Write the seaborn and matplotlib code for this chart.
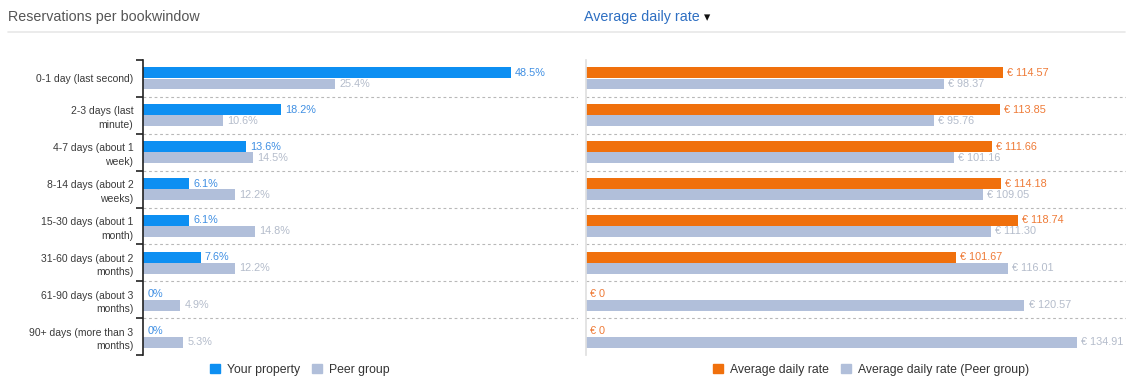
import matplotlib
matplotlib.use("Agg")
import matplotlib.pyplot as plt
import seaborn as sns
import pandas as pd
from matplotlib.patches import Patch
from matplotlib.lines import Line2D

categories = ["0-1 day (last second)", "2-3 days (last\nminute)", "4-7 days (about 1\nweek)",
              "8-14 days (about 2\nweeks)", "15-30 days (about 1\nmonth)", "31-60 days (about 2\nmonths)",
              "61-90 days (about 3\nmonths)", "90+ days (more than 3\nmonths)"]
your_property = [48.5, 18.2, 13.6, 6.1, 6.1, 7.6, 0, 0]
peer_group = [25.4, 10.6, 14.5, 12.2, 14.8, 12.2, 4.9, 5.3]
adr = [114.57, 113.85, 111.66, 114.18, 118.74, 101.67, 0, 0]
adr_peer = [98.37, 95.76, 101.16, 109.05, 111.30, 116.01, 120.57, 134.91]

BLUE = "#0d8ff2"
GREY = "#b1bfda"
ORANGE = "#f0700c"
BLUE_T = "#3f8fe3"
GREY_T = "#b4bccb"
ORANGE_T = "#ef7a36"

sns.set_theme(style="white")
plt.rcParams['font.family'] = ['Liberation Sans', 'DejaVu Sans']

fig = plt.figure(figsize=(11.31, 3.78), dpi=100)
W, H = 1131, 378

def axes_px(x0, x1, y0, y1):
    return fig.add_axes([x0 / W, 1 - y1 / H, (x1 - x0) / W, (y1 - y0) / H])

axL = axes_px(143, 578, 60, 355)
axR = axes_px(586, 1126, 60, 355)

dfL = pd.DataFrame({"cat": categories * 2,
                    "val": your_property + peer_group,
                    "series": ["Your property"] * 8 + ["Peer group"] * 8})
dfR = pd.DataFrame({"cat": categories * 2,
                    "val": adr + adr_peer,
                    "series": ["Average daily rate"] * 8 + ["Average daily rate (Peer group)"] * 8})

sns.barplot(data=dfL, y="cat", x="val", hue="series", palette=[BLUE, GREY], orient="h",
            width=0.6, gap=0.02, ax=axL, legend=False, saturation=1, linewidth=0)
sns.barplot(data=dfR, y="cat", x="val", hue="series", palette=[ORANGE, GREY], orient="h",
            width=0.6, gap=0.02, ax=axR, legend=False, saturation=1, linewidth=0)

fs_val = 7.8
axL.bar_label(axL.containers[0], labels=[f"{v:g}%" if v else "0%" for v in your_property],
              padding=3, color=BLUE_T, fontsize=fs_val)
axL.bar_label(axL.containers[1], labels=[f"{v:.1f}%" for v in peer_group],
              padding=3, color=GREY_T, fontsize=fs_val)
axR.bar_label(axR.containers[0], labels=[f"€ {v:.2f}" if v else "€ 0" for v in adr],
              padding=3, color=ORANGE_T, fontsize=fs_val)
axR.bar_label(axR.containers[1], labels=[f"€ {v:.2f}" for v in adr_peer],
              padding=3, color=GREY_T, fontsize=fs_val)

axL.set_xlim(0, 57.4)
axR.set_xlim(0, 148.5)

for ax in (axL, axR):
    ax.set_ylim(7.5, -0.5)
    ax.set_xlabel("")
    ax.set_ylabel("")
    ax.set_xticks([])
    for s in ("top", "right", "bottom"):
        ax.spines[s].set_visible(False)
    for i in range(7):
        ax.axhline(i + 0.5, color="#b8b8b8", linestyle=(0, (2.5, 2.5)), lw=0.8, zorder=0)

axL.spines["left"].set_color("#222222")
axL.spines["left"].set_linewidth(1.2)
axL.set_yticks(range(8))
axL.set_yticklabels(categories, fontsize=7.5, color="#3a3a3a", ha="right", linespacing=1.45)
axL.tick_params(axis="y", which="major", length=0, pad=7)
axL.set_yticks([i - 0.5 for i in range(9)], minor=True)
axL.tick_params(axis="y", which="minor", length=5, width=1.2, color="#222222", left=True)

axR.spines["left"].set_color("#e0e0e0")
axR.set_yticks([])

# header
fig.text(8 / W, 1 - 17 / H, "Reservations per bookwindow", fontsize=10.3, color="#555555", va="center")
fig.text(584 / W, 1 - 17 / H, "Average daily rate", fontsize=10.3, color="#2e6fc2", va="center")
fig.text(704 / W, 1 - 17.5 / H, "▾", fontsize=9, color="#111111", va="center",
         family=['DejaVu Sans'])
fig.add_artist(Line2D([8 / W, 1125 / W], [1 - 32 / H] * 2, color="#e8e8e8", lw=1.2))

# legends
hL = [Patch(color=BLUE), Patch(color=GREY)]
fig.legend(hL, ["Your property", "Peer group"], loc="center", bbox_to_anchor=(300 / W, 1 - 370 / H),
           ncol=2, frameon=False, fontsize=8.8, handlelength=0.8, handleheight=0.8,
           handletextpad=0.6, columnspacing=1.0, labelcolor="#333333")
hR = [Patch(color=ORANGE), Patch(color=GREY)]
fig.legend(hR, ["Average daily rate", "Average daily rate (Peer group)"], loc="center",
           bbox_to_anchor=(871 / W, 1 - 370 / H), ncol=2, frameon=False, fontsize=8.8,
           handlelength=0.8, handleheight=0.8, handletextpad=0.6, columnspacing=1.0,
           labelcolor="#333333")

fig.savefig("out.png", dpi=100)
